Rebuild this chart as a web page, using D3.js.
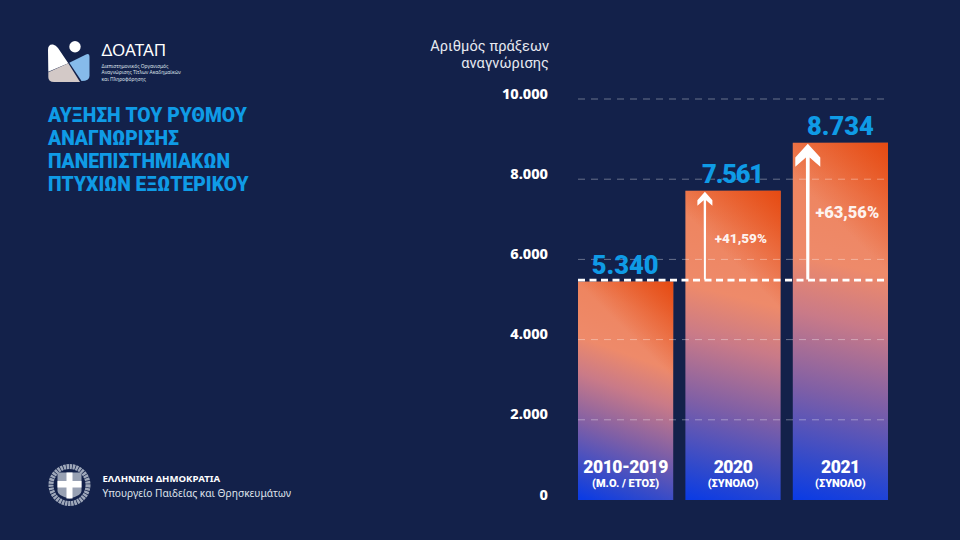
<!DOCTYPE html>
<html>
<head>
<meta charset="utf-8">
<script src="https://cdn.jsdelivr.net/npm/d3@7"></script>
<style>
  html, body { margin: 0; padding: 0; background: #13214a; }
  svg { display: block; }
  text { font-family: "Noto Sans", sans-serif; }
  .heavy { font-family: Roboto, sans-serif; font-weight: 900; }
</style>
</head>
<body>
<svg width="960" height="540"></svg>
<script>
var categories = ["2010-2019", "2020", "2021"];
var subLabels = ["(Μ.Ο. / ΕΤΟΣ)", "(ΣΥΝΟΛΟ)", "(ΣΥΝΟΛΟ)"];
var values = [5340, 7561, 8734];
var valueLabels = ["5.340", "7.561", "8.734"];
var changes = [null, "+41,59%", "+63,56%"];
var tickValues = [0, 2000, 4000, 6000, 8000, 10000];
var tickLabels = ["0", "2.000", "4.000", "6.000", "8.000", "10.000"];
var titleLines = ["ΑΥΞΗΣΗ ΤΟΥ ΡΥΘΜΟΥ", "ΑΝΑΓΝΩΡΙΣΗΣ", "ΠΑΝΕΠΙΣΤΗΜΙΑΚΩΝ", "ΠΤΥΧΙΩΝ ΕΞΩΤΕΡΙΚΟΥ"];
var orgLines = ["Διεπιστημονικός Οργανισμός", "Αναγνώρισης Τίτλων Ακαδημαϊκών", "και Πληροφόρησης"];

var svg = d3.select("svg");
var W = "#ffffff", BLUE = "#0f9be6";

// bars and grid do not share one scale in the original
var yBar = d3.scaleLinear().domain([0, 10000]).range([500, 91]);
var yGrid = d3.scaleLinear().domain([0, 10000]).range([500, 99]);
var x = d3.scaleBand().domain(categories).range([578, 888]).paddingInner(0.1134);

var defs = svg.append("defs");
var baseStops = [[0, "#0b3be4"], [0.1, "#2f49cc"], [0.3, "#7f5fa6"], [0.5, "#c97a88"], [0.65, "#ee8a6a"], [0.85, "#ee8560"], [1, "#ec7a4e"]];

categories.forEach(function(c, i) {
  var x0 = x(c), bw = x.bandwidth(), top = yBar(values[i]), h = yBar(0) - top;
  var g = defs.append("linearGradient").attr("id", "base" + i)
    .attr("gradientUnits", "userSpaceOnUse")
    .attr("x1", x0 + 8).attr("y1", top + h).attr("x2", x0 + 88).attr("y2", top);
  baseStops.forEach(function(s) { g.append("stop").attr("offset", s[0]).attr("stop-color", s[1]); });
  // orange corner, top right
  var reach = 0.12 * h + 22;
  var o = defs.append("linearGradient").attr("id", "corner" + i)
    .attr("gradientUnits", "userSpaceOnUse")
    .attr("x1", x0 + bw).attr("y1", top).attr("x2", x0 + bw - reach).attr("y2", top + reach);
  o.append("stop").attr("offset", 0).attr("stop-color", "#e64a12").attr("stop-opacity", 1);
  o.append("stop").attr("offset", 1).attr("stop-color", "#e64a12").attr("stop-opacity", 0);
});

// bars
svg.selectAll("rect.bar").data(categories).enter().append("rect")
  .attr("class", "bar")
  .attr("x", function(d) { return x(d); })
  .attr("y", function(d, i) { return yBar(values[i]); })
  .attr("width", x.bandwidth())
  .attr("height", function(d, i) { return yBar(0) - yBar(values[i]); })
  .attr("fill", function(d, i) { return "url(#base" + i + ")"; });
svg.selectAll("rect.corner").data(categories).enter().append("rect")
  .attr("class", "corner")
  .attr("x", function(d) { return x(d); })
  .attr("y", function(d, i) { return yBar(values[i]); })
  .attr("width", x.bandwidth())
  .attr("height", function(d, i) { return yBar(0) - yBar(values[i]); })
  .attr("fill", function(d, i) { return "url(#corner" + i + ")"; });

// grid lines
svg.selectAll("line.grid").data(tickValues.slice(1)).enter().append("line")
  .attr("class", "grid")
  .attr("x1", 578).attr("x2", 888)
  .attr("y1", function(d) { return yGrid(d); })
  .attr("y2", function(d) { return yGrid(d); })
  .attr("stroke", "#ffffff").attr("stroke-opacity", 0.36)
  .attr("stroke-width", 1).attr("stroke-dasharray", "7 6");

// y tick labels
svg.selectAll("text.tick").data(tickValues).enter().append("text")
  .attr("class", "tick")
  .attr("x", 548)
  .attr("y", function(d) { return yGrid(d) - 0.5; })
  .attr("text-anchor", "end")
  .attr("fill", W).attr("font-size", 14.5).attr("font-weight", 800)
  .text(function(d, i) { return tickLabels[i]; });

// y axis caption
svg.append("text").attr("x", 549).attr("y", 50.5).attr("text-anchor", "end")
  .style("font-family", "Roboto, sans-serif").attr("letter-spacing", 0.05)
  .attr("fill", "#e6e9f0").attr("font-size", 14.6).text("Αριθμός πράξεων");
svg.append("text").attr("x", 549).attr("y", 68).attr("text-anchor", "end")
  .style("font-family", "Roboto, sans-serif").attr("letter-spacing", 0.05)
  .attr("fill", "#e6e9f0").attr("font-size", 14.6).text("αναγνώρισης");

// reference line at the 2010-2019 level
svg.append("line")
  .attr("x1", 578).attr("x2", 888)
  .attr("y1", yBar(values[0]) - 1.5).attr("y2", yBar(values[0]) - 1.5)
  .attr("stroke", W).attr("stroke-width", 2.8).attr("stroke-dasharray", "7 4.5");

// value labels
svg.selectAll("text.val").data(values).enter().append("text")
  .attr("class", "val heavy")
  .attr("x", function(d, i) { return x(categories[i]) + x.bandwidth() / 2 - (i === 2 ? 0 : 0.5); })
  .attr("y", function(d) { return yBar(d) - 8; })
  .attr("text-anchor", "middle")
  .attr("letter-spacing", function(d, i) { return i === 1 ? -1.2 : 0; })
  .attr("fill", BLUE).attr("font-size", 25.5)
  .text(function(d, i) { return valueLabels[i]; });

// arrows
categories.forEach(function(c, i) {
  if (!changes[i]) return;
  var ax = x(c) + (i === 1 ? 19.5 : 15);
  var hw = i === 1 ? 7.5 : 12.5, hh = i === 1 ? 14 : 23;
  var top = yBar(values[i]) + 1, bottom = yBar(values[0]) - 2;
  var sw = i === 1 ? 1.2 : 1.9;
  svg.append("path")
    .attr("d", "M" + (ax - sw * 0.8) + "," + bottom + "L" + (ax - sw) + "," + (top + hh * 0.6) +
      "L" + (ax - hw) + "," + (top + hh) + "V" + (top + hh * 0.6) + "L" + ax + "," + top +
      "L" + (ax + hw) + "," + (top + hh * 0.6) + "V" + (top + hh) +
      "L" + (ax + sw) + "," + (top + hh * 0.6) + "L" + (ax + sw * 0.8) + "," + bottom + "Z")
    .attr("fill", W);
  svg.append("text")
    .attr("class", "heavy")
    .attr("x", x(c) + (i === 1 ? 55.5 : 54.5)).attr("y", i === 1 ? 243 : 218)
    .attr("text-anchor", "middle")
    .attr("fill", W).attr("fill-opacity", 0.92).attr("font-size", i === 1 ? 13.5 : 16.5)
    .text(changes[i]);
});

// category labels inside the bars
svg.selectAll("text.cat").data(categories).enter().append("text")
  .attr("class", "cat heavy")
  .attr("x", function(d) { return x(d) + x.bandwidth() / 2; })
  .attr("y", 473)
  .attr("text-anchor", "middle")
  .attr("letter-spacing", -0.5)
  .attr("fill", W).attr("font-size", 17.5)
  .text(function(d) { return d; });
svg.selectAll("text.sub").data(subLabels).enter().append("text")
  .attr("class", "sub heavy")
  .attr("x", function(d, i) { return x(categories[i]) + x.bandwidth() / 2; })
  .attr("y", 487)
  .attr("text-anchor", "middle")
  .attr("fill", W).attr("font-size", 11)
  .text(function(d) { return d; });

// title
svg.selectAll("text.title").data(titleLines).enter().append("text")
  .attr("class", "title heavy")
  .attr("x", 48)
  .attr("y", function(d, i) { return 122 + i * 23; })
  .attr("fill", BLUE).attr("font-size", 19.3)
  .text(function(d) { return d; });

// logo
var logo = svg.append("g");
logo.append("path").attr("d", "M48,50Q48,44 53,44.5Q56,45 58,48L68.3,63.3L48.3,71.7Z").attr("fill", "#ffffff");
logo.append("path").attr("d", "M48.3,72.3L68.3,63.3L80,82H54Q48.3,82 48.3,77Z").attr("fill", "#d3c9c7");
logo.append("path").attr("d", "M69.3,62.7L86,54.5Q89.5,53 89.5,57V76Q89.5,81 81.5,81Z").attr("fill", "#86bbea");
logo.append("circle").attr("cx", 75).attr("cy", 46.7).attr("r", 5.7).attr("fill", "#ffffff");
svg.append("text").attr("x", 101.5).attr("y", 55.5).attr("fill", W).attr("font-size", 17).text("ΔΟΑΤΑΠ");
svg.selectAll("text.org").data(orgLines).enter().append("text")
  .attr("class", "org")
  .attr("x", 101.5)
  .attr("y", function(d, i) { return 67.5 + i * 6.9; })
  .attr("fill", "#dfe3ea").attr("font-size", 4.9)
  .text(function(d) { return d; });

// emblem
var em = svg.append("g").attr("transform", "translate(69.5,485)");
em.append("circle").attr("r", 18.5).attr("fill", "none").attr("stroke", "#9fa8ba").attr("stroke-width", 5).attr("stroke-dasharray", "2.4 0.7");
em.append("path").attr("d", "M-12,-12.5H12V6Q12,11 0,13.5Q-12,11 -12,6Z").attr("fill", "#98a1b3");
em.append("rect").attr("x", -3).attr("y", -12.5).attr("width", 6).attr("height", 26).attr("fill", W);
em.append("rect").attr("x", -12).attr("y", -4).attr("width", 24).attr("height", 6.5).attr("fill", W);
svg.append("text").attr("x", 102.5).attr("y", 481.7).attr("fill", W).attr("font-size", 9.6).attr("font-weight", 700).text("ΕΛΛΗΝΙΚΗ ΔΗΜΟΚΡΑΤΙΑ");
svg.append("text").attr("x", 102.5).attr("y", 496.5).attr("fill", "#dfe3ea").attr("font-size", 10.2).text("Υπουργείο Παιδείας και Θρησκευμάτων");
</script>
</body>
</html>
